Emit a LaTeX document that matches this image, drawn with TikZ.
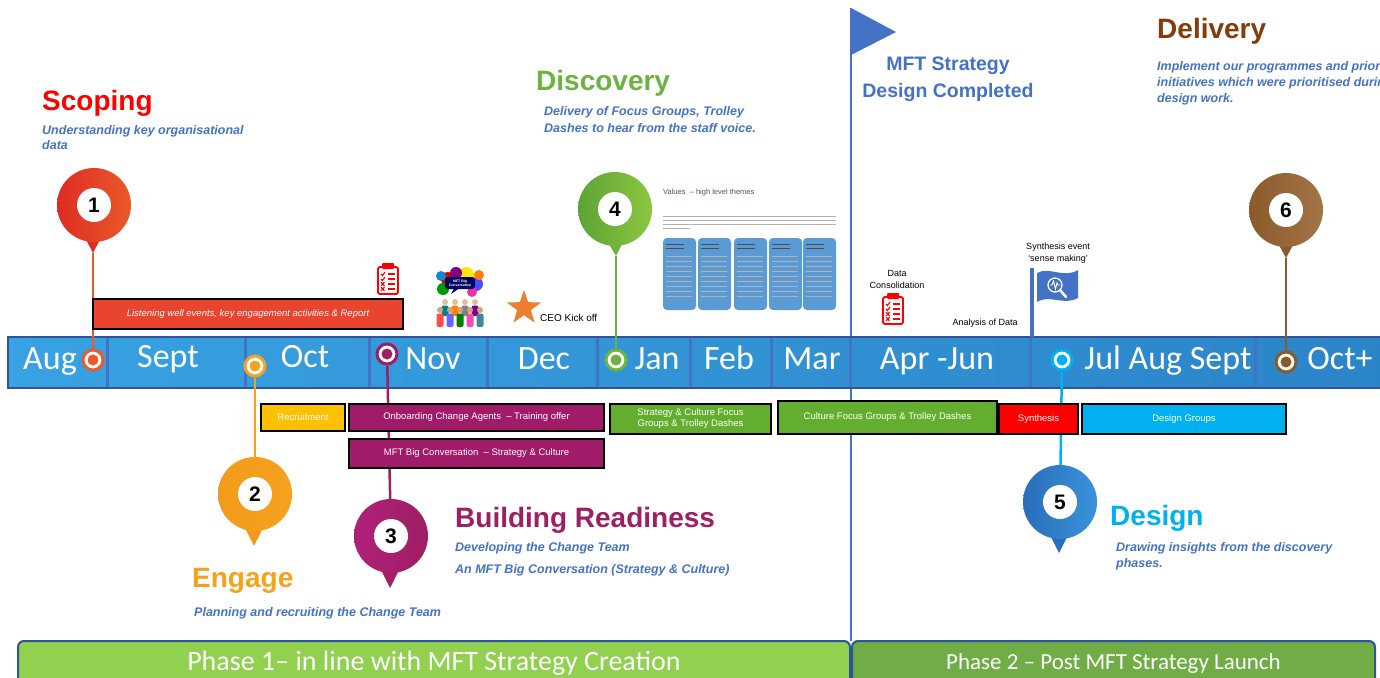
\documentclass[tikz,border=0pt]{standalone}
\usepackage{fontspec}
\setmainfont{Liberation Sans}
\newfontfamily\calibri{Carlito}
\usetikzlibrary{positioning,calc,shapes.geometric}

\pgfdeclarelayer{back}
\pgfdeclarelayer{mid}
\pgfsetlayers{back,mid,main}

% palette
\definecolor{scopedark}{HTML}{DD2C22}
\definecolor{scopelight}{HTML}{EA5A2A}
\definecolor{engorange}{HTML}{F6A21D}
\definecolor{engdark}{HTML}{F39A1B}
\definecolor{readpurple}{HTML}{9E1F63}
\definecolor{readlight}{HTML}{B0207A}
\definecolor{discgreen}{HTML}{6DB33F}
\definecolor{discdark}{HTML}{5CA437}
\definecolor{disclight}{HTML}{8CC63F}
\definecolor{designcyan}{HTML}{00B0F0}
\definecolor{pinblue}{HTML}{2A6EBB}
\definecolor{pinbluelight}{HTML}{3A92DA}
\definecolor{delbrown}{HTML}{843C0C}
\definecolor{pinbrown}{HTML}{8B5A2B}
\definecolor{pinbrownlight}{HTML}{A37445}
\definecolor{textblue}{HTML}{4472C4}
\definecolor{barleft}{HTML}{38A2E2}
\definecolor{barright}{HTML}{2B84C8}
\definecolor{bardark}{HTML}{2F5597}
\definecolor{listenred}{HTML}{E8442E}
\definecolor{recruityellow}{HTML}{FFC000}
\definecolor{boxpurple}{HTML}{A01B68}
\definecolor{boxgreen}{HTML}{63AE2E}
\definecolor{phaseone}{HTML}{92D050}
\definecolor{phasetwo}{HTML}{70AD47}
\definecolor{starorange}{HTML}{ED7D31}
\definecolor{valueblue}{HTML}{5B9BD5}
\definecolor{slate}{HTML}{44546A}

\tikzstyle{pinhead} = [circle, minimum size=74pt, inner sep=0pt]
\tikzstyle{pinhole} = [circle, fill=white, minimum size=34pt, inner sep=0pt, font=\bfseries\fontsize{21}{21}\selectfont]
\tikzstyle{ring} = [circle, fill=white, line width=3pt, minimum size=20pt, inner sep=0pt]
\tikzstyle{task} = [draw=black, line width=2.5pt, text=white, inner sep=0pt, align=center, font=\fontsize{9.5}{11}\selectfont]
\tikzstyle{month} = [anchor=base, text=white, inner sep=0pt, font=\calibri\fontsize{34}{34}\selectfont]
\tikzstyle{heading} = [anchor=base west, inner sep=0pt, font=\bfseries\fontsize{28}{30}\selectfont]
\tikzstyle{blurb} = [anchor=north west, inner sep=0pt, align=left, text=textblue, font=\bfseries\itshape\fontsize{12.5}{16}\selectfont]
\tikzstyle{note} = [inner sep=0pt, align=center, font=\fontsize{9}{12}\selectfont]
\tikzstyle{link} = [line width=2.5pt]
\tikzstyle{phasebox} = [draw=bardark, line width=2pt, rounded corners=6pt, text=white, inner sep=0pt]

\begin{document}
\begin{tikzpicture}[x=1pt, y=-1pt]
  \useasboundingbox (0,0) rectangle (1380,677);

  % timeline bar with month cells
  \begin{pgfonlayer}{back}
    \coordinate (flagtop) at (851,8);
    \coordinate (flagfoot) at (851,641);
    \draw[textblue, line width=1.5pt] (flagtop) -- (flagfoot);
    \node[draw=bardark, line width=2pt, left color=barleft, right color=barright,
          minimum width=1390pt, minimum height=51pt, inner sep=0pt] (timeline) at (703,362.5) {};
    \foreach \x in {107,245,369,487,597,690,771,850,1030,1255}
      \draw[textblue, line width=3pt] (\x,338) -- (\x,387);
  \end{pgfonlayer}

  \node[month] (aug) at (50,369) {Aug};
  \node[month] (sept) at (168,367) {Sept};
  \node[month] (oct) at (305,367) {Oct};
  \node[month] (nov) at (433,369) {Nov};
  \node[month] (dec) at (544,369) {Dec};
  \node[month] (jan) at (657,369) {Jan};
  \node[month] (feb) at (729,369) {Feb};
  \node[month] (mar) at (812,369) {Mar};
  \node[month] (aprjun) at (937,369) {Apr -Jun};
  \node[month] (julsep) at (1168,369) {Jul Aug Sept};
  \node[month] (octplus) at (1340,369) {Oct+};

  % milestone flag
  \fill[textblue] (flagtop) -- (896,32) -- (851,55) -- cycle;
  \node[anchor=north, align=center, inner sep=0pt, text=textblue,
        font=\bfseries\fontsize{19.5}{27}\selectfont] (stratdone) at (948,57) {MFT Strategy\\Design Completed};

  % ring markers on the bar
  \node[ring, draw=scopelight] (m1) at (93,360) {};
  \fill[scopelight] (m1) circle (5.5pt);
  \node[ring, draw=engorange] (m2) at (255,366) {};
  \fill[engorange] (m2) circle (5.5pt);
  \node[ring, draw=readpurple] (m3) at (387,354) {};
  \fill[readpurple] (m3) circle (5.5pt);
  \node[ring, draw=discgreen] (m4) at (616,360) {};
  \fill[discgreen] (m4) circle (5.5pt);
  \node[ring, draw=designcyan] (m5) at (1062,360) {};
  \fill[designcyan] (m5) circle (5.5pt);
  \node[ring, draw=pinbrown] (m6) at (1286,362) {};
  \fill[pinbrown] (m6) circle (5.5pt);

  % pins
  \coordinate (t1) at (93,253);
  \fill[scopedark] (80,228) -- (t1) -- (106,228) -- cycle;
  \node[pinhead, left color=scopedark, right color=scopelight] (p1) at (94,205) {};
  \node[pinhole] (n1) at (p1) {1};

  \coordinate (t2) at (254,546);
  \fill[engdark] (241,520) -- (t2) -- (267,520) -- cycle;
  \node[pinhead, left color=engdark, right color=engorange] (p2) at (255,494) {};
  \node[pinhole] (n2) at (p2) {2};

  \coordinate (t3) at (390,588);
  \fill[readpurple] (377,562) -- (t3) -- (403,562) -- cycle;
  \node[pinhead, left color=readlight, right color=readpurple] (p3) at (391,536) {};
  \node[pinhole] (n3) at (p3) {3};

  \coordinate (t4) at (616,256);
  \fill[discgreen] (602,232) -- (t4) -- (628,232) -- cycle;
  \node[pinhead, left color=discdark, right color=disclight] (p4) at (615,209) {};
  \node[pinhole] (n4) at (p4) {4};

  \coordinate (t5) at (1059,553);
  \fill[pinblue] (1046,527) -- (t5) -- (1072,527) -- cycle;
  \node[pinhead, left color=pinblue, right color=pinbluelight] (p5) at (1060,502) {};
  \node[pinhole] (n5) at (p5) {5};

  \coordinate (t6) at (1286,258);
  \fill[pinbrown] (1273,234) -- (t6) -- (1299,234) -- cycle;
  \node[pinhead, left color=pinbrown, right color=pinbrownlight] (p6) at (1286,210) {};
  \node[pinhole] (n6) at (p6) {6};

  % stems from pins to the bar
  \begin{pgfonlayer}{mid}
    \draw[link, scopelight] (t1) -- (m1);
    \draw[link, engorange] (m2) -- (p2);
    \draw[link, readpurple] (m3) -- (p3);
    \draw[link, discgreen] (t4) -- (m4);
    \draw[link, designcyan] (m5) -- (p5);
    \draw[link, pinbrown] (t6) -- (m6);
  \end{pgfonlayer}

  % activity boxes
  \node[task, fill=listenred, minimum width=310pt, minimum height=30pt, font=\itshape\fontsize{9.5}{11}\selectfont] (listen) at (248,314) {Listening well events, key engagement activities \& Report};
  \node[task, fill=recruityellow, minimum width=84pt, minimum height=27pt] (recruit) at (303,417.5) {Recruitment};
  \node[task, fill=boxpurple, minimum width=255pt, minimum height=27pt] (onboard) at (476.5,417.5) {Onboarding Change Agents \ – Training offer};
  \node[task, fill=boxpurple, minimum width=255pt, minimum height=29pt] (bigconv) at (476.5,453.5) {MFT Big Conversation \ – Strategy \& Culture};
  \node[task, fill=boxgreen, minimum width=161pt, minimum height=30pt] (stratfocus) at (690.5,419) {Strategy \& Culture Focus\\Groups \& Trolley Dashes};
  \node[task, fill=boxgreen, minimum width=219pt, minimum height=33pt] (culturefocus) at (887.5,417.5) {Culture Focus Groups \& Trolley Dashes};
  \node[task, fill=red, minimum width=79pt, minimum height=30pt] (synth) at (1038.5,419) {Synthesis};
  \node[task, fill=designcyan, minimum width=204pt, minimum height=30pt] (designgroups) at (1184,419) {Design Groups};

  % headings and descriptions
  \node[heading, text=red] (scoping) at (42,110) {Scoping};
  \node[blurb, font=\bfseries\itshape\fontsize{12.5}{15.5}\selectfont] (scopingtxt) at (42,125) {Understanding key organisational\\data};
  \node[heading, text=engorange] (engage) at (192,587) {Engage};
  \node[blurb] (engagetxt) at (194,607) {Planning and recruiting the Change Team};
  \node[heading, text=readpurple] (readiness) at (455,527) {Building Readiness};
  \node[blurb, font=\bfseries\itshape\fontsize{12.5}{22}\selectfont] (readinesstxt) at (455,542) {Developing the Change Team\\An MFT Big Conversation (Strategy \& Culture)};
  \node[heading, text=discgreen] (discovery) at (536,90) {Discovery};
  \node[blurb, font=\bfseries\itshape\fontsize{12.5}{17}\selectfont] (discoverytxt) at (544,106) {Delivery of Focus Groups, Trolley\\Dashes to hear from the staff voice.};
  \node[heading, text=delbrown] (delivery) at (1157,38) {Delivery};
  \node[blurb] (deliverytxt) at (1157,61) {Implement our programmes and prioritised\\initiatives which were prioritised during\\design work.};
  \node[heading, text=designcyan] (design) at (1110,525) {Design};
  \node[blurb] (designtxt) at (1116,542) {Drawing insights from the discovery\\phases.};

  % small event labels
  \node[star, star points=5, star point ratio=2.5, fill=starorange, minimum size=36pt, inner sep=0pt] (ceo) at (524,308) {};
  \node[note, anchor=west, font=\fontsize{10}{12}\selectfont] (ceotxt) at (540,318) {CEO Kick off};
  \node[note] (datacons) at (897,279) {Data\\Consolidation};
  \node[note] (analysis) at (985,323) {Analysis of Data};
  \node[note] (synthevent) at (1058,253) {Synthesis event\\‘sense making’};

  % checklists
  \begin{scope}[shift={(388,279)}]
    \draw[red, line width=1.8pt, rounded corners=2pt, fill=white] (-10,-12) rectangle (10,15);
    \fill[red, rounded corners=1pt] (-6,-16) rectangle (6,-10);
    \foreach \y in {-5,0} \draw[red, line width=1.1pt] (-7,\y) -- (-5.5,\y+1.5) -- (-3,\y-2);
    \foreach \y in {5,10} \draw[red, line width=1.1pt] (-7,\y-1.8) -- (-3.5,\y+1.8) (-7,\y+1.8) -- (-3.5,\y-1.8);
    \foreach \y in {-5,0,5,10} \draw[red, line width=1.6pt] (0,\y) -- (7,\y);
  \end{scope}
  \begin{scope}[shift={(893,309)}]
    \draw[red, line width=1.8pt, rounded corners=2pt, fill=white] (-10,-12) rectangle (10,15);
    \fill[red, rounded corners=1pt] (-6,-16) rectangle (6,-10);
    \foreach \y in {-5,0} \draw[red, line width=1.1pt] (-7,\y) -- (-5.5,\y+1.5) -- (-3,\y-2);
    \foreach \y in {5,10} \draw[red, line width=1.1pt] (-7,\y-1.8) -- (-3.5,\y+1.8) (-7,\y+1.8) -- (-3.5,\y-1.8);
    \foreach \y in {-5,0,5,10} \draw[red, line width=1.6pt] (0,\y) -- (7,\y);
  \end{scope}

  % conversation logo
  \begin{scope}[shift={(460,298)}]
    \fill[red!85!black] (-12,-19) circle (7pt);
    \fill[yellow!90!orange] (6,-23) circle (8pt);
    \fill[blue!70] (16,-14) circle (7pt);
    \fill[green!60!black] (-17,-9) circle (6pt);
    \fill[violet] (-4,-25) circle (6pt);
    \fill[orange] (19,-23) circle (5pt);
    \fill[cyan!70!blue] (-19,-22) circle (5pt);
    \fill[magenta!80] (12,-6) circle (5pt);
    \fill[blue!40!black, rounded corners=3pt] (-15,-21) rectangle (15,-9);
    \fill[blue!40!black] (-6,-9.5) -- (-9,-4) -- (-1,-9.5) -- cycle;
    \node[text=white, font=\bfseries\fontsize{3.5}{4}\selectfont, align=center, inner sep=0pt] (logotxt) at (0,-15) {MFT Big\\Conversation};
    \foreach \x/\c in {-15/teal, -5/orange, 5/gray, 15/violet} {
      \fill[brown!50!white] (\x,4) circle (3pt);
      \fill[\c, rounded corners=2pt] (\x-3.5,7.5) rectangle (\x+3.5,18);
    }
    \foreach \x/\c in {-20/red!70, -10/blue!60, 0/green!50!black, 10/magenta!70, 20/cyan!60!black} {
      \fill[brown!70!white] (\x,12) circle (3pt);
      \fill[\c, rounded corners=2pt] (\x-3.5,15.5) rectangle (\x+3.5,29);
    }
  \end{scope}

  % values slide thumbnail
  \node[anchor=west, inner sep=0pt, text=slate, font=\fontsize{7.5}{9}\selectfont] (valtitle) at (663,193) {Values \ – high level themes};
  \foreach \y in {216,220,224} \draw[gray!60, line width=0.6pt] (663,\y) -- (836,\y);
  \draw[gray!60, line width=0.6pt] (663,228) -- (690,228);
  \foreach \x in {663,698,734,769,803} {
    \fill[valueblue, rounded corners=4pt] (\x,238) rectangle ++(33,72);
    \foreach \y in {244,248} \draw[black!70, line width=0.7pt] (\x+3,\y) -- ++(18,0);
    \foreach \y in {256,261,...,296} \draw[black!30, line width=0.5pt] (\x+3,\y) -- ++(26,0);
  }

  % synthesis flag
  \coordinate (poletop) at (1032,268);
  \coordinate (polefoot) at (1032,337);
  \draw[textblue, line width=4pt] (poletop) -- (polefoot);
  \fill[textblue] (1037,273) .. controls (1050,266) and (1063,279) .. (1078,270) -- (1078,298) .. controls (1063,306) and (1050,294) .. (1037,302) -- cycle;
  \draw[white, line width=1.3pt] (1055,285) circle (7pt);
  \draw[white, line width=2.5pt, line cap=round] (1060,290) -- (1066,297);
  \draw[white, line width=0.9pt] (1050,285) -- (1052,285) -- (1053.5,281) -- (1055.5,289) -- (1057,283) -- (1058,285) -- (1060,285);

  % phase bands
  \node[phasebox, fill=phaseone, minimum width=832pt, minimum height=44pt, font=\calibri\fontsize{28}{28}\selectfont] (phase1) at (434,663) {Phase 1– in line with MFT Strategy Creation};
  \node[phasebox, fill=phasetwo, minimum width=523pt, minimum height=44pt, font=\calibri\fontsize{23}{23}\selectfont] (phase2) at (1113.5,663) {Phase 2 – Post MFT Strategy Launch};
\end{tikzpicture}
\end{document}
